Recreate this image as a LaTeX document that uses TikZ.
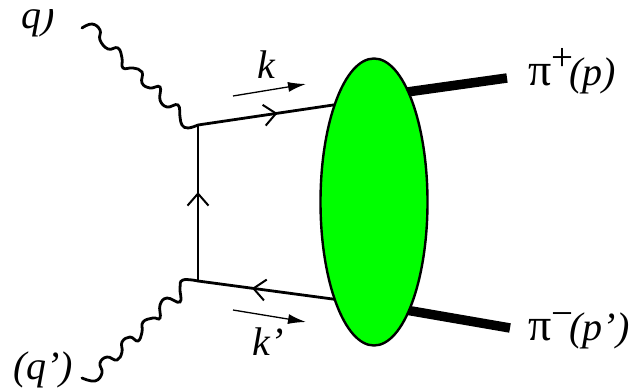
\documentclass[tikz,border=0pt]{standalone}
\usepackage{fontspec}
\setmainfont{Liberation Serif}
\usepackage{xcolor}
\usetikzlibrary{arrows.meta,positioning,shapes.geometric,decorations.markings}
\definecolor{blobgreen}{HTML}{00FF00}
\newcommand{\lab}{\fontsize{40}{44}\selectfont}
\newcommand{\labpi}{{\fontsize{46}{48}\selectfont π}}
\newcommand{\labsup}[2]{\raisebox{#1}{\fontsize{39}{40}\selectfont #2}}

\begin{document}
\begin{tikzpicture}[
  x=1pt, y=-1pt,
  blob/.style={draw=black, line width=2.4pt, fill=blobgreen, ellipse, inner sep=0pt,
    minimum width=107pt, minimum height=287pt},
  photon/.style={line width=2.8pt, line cap=round},
  fermion/.style={line width=2.8pt, postaction={decorate}, decoration={markings,
    mark=at position #1 with {\arrow[line width=2pt]{Straight Barb[length=12pt,width=21pt]}}}},
  fermion/.default=0.5,
  pion/.style={line width=9.5pt},
  mom/.style={-{Latex[length=18pt,width=10pt]}, line width=1.3pt},
  lbl/.style={font=\lab\itshape, inner sep=0pt}
]
\useasboundingbox (0,0) rectangle (631,390);
\coordinate (v1) at (198,125);
\coordinate (v2) at (198,281);
\coordinate (e1) at (340,104);
\coordinate (e2) at (340,300);
\coordinate (p1) at (400,93);
\coordinate (p2) at (507,78);
\coordinate (p3) at (400,309);
\coordinate (p4) at (510,328);
\coordinate (m1) at (233,96);
\coordinate (m2) at (306,84);
\coordinate (m3) at (233,310);
\coordinate (m4) at (306,322);
\coordinate (g1) at (82,28);
\coordinate (g2) at (82,378);
\draw[photon] plot[smooth, tension=0.75] coordinates {(g1) (92,24) (100,30) (100,40) (108,49) (118,48) (122,58) (123,68) (133,68) (142,72) (142,83) (150,88) (160,87) (160,100) (167,107) (178,105) (180,117) (182,125) (188,128) (v1)};
\draw[photon] plot[smooth, tension=0.75] coordinates {(g2) (95,381) (102,373) (100,363) (107,357) (117,360) (122,352) (122,342) (130,337) (138,341) (142,332) (143,322) (153,318) (160,318) (160,305) (167,298) (180,302) (180,288) (183,280) (v2)};
\draw[fermion=0.56] (v1) -- (e1);
\draw[fermion=0.62] (e2) -- (v2);
\draw[fermion=0.57] (v2) -- (v1);
\draw[pion] (p1) -- (p2);
\draw[pion] (p3) -- (p4);
\node[blob] (amp) at (374,202) {};
\draw[mom] (m1) -- (m2);
\draw[mom] (m3) -- (m4);
\node[lbl] (k) at (266,65) {k};
\node[lbl] (kp) at (268,342) {k’};
\begin{scope}
\clip (0,10) rectangle (631,390);
\node[lbl] (q) at (38,19) {q)};
\end{scope}
\node[lbl] (qp) at (43,370) {(q’)};
\node[font=\lab, inner sep=0pt, anchor=base west] (pip) at (528,86) {\labpi\labsup{15pt}{+}\kern-4pt\textit{(p)}};
\node[font=\lab, inner sep=0pt, anchor=base west] (pim) at (528,340) {\labpi\labsup{14pt}{−}\kern-4pt\textit{(p’)}};
\end{tikzpicture}
\end{document}
